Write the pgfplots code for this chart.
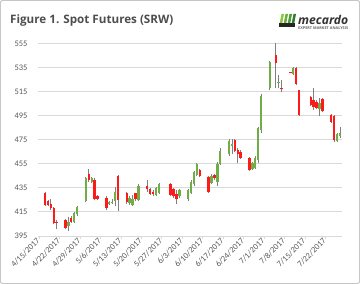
\documentclass[border=0pt]{standalone}
\usepackage{fontspec}
\setmainfont{Carlito}
\newfontfamily\titlefont{Open Sans}
\usepackage{pgfplots}
\pgfplotsset{compat=1.18}
\usepackage{pgfplotstable}
\definecolor{upc}{HTML}{70AD47}
\definecolor{dnc}{HTML}{FF1A1A}
\definecolor{wick}{HTML}{7F7F7F}
\definecolor{gridc}{HTML}{D9D9D9}
\definecolor{txt}{HTML}{595959}
\definecolor{ttl}{HTML}{4D4D4D}

\pgfplotstableread{
d o h l c
10 403 411 399 407
12 407 415 406 414.5
13 413 420 412 419
16 424 444 423 443
18 440 444 439 443
24 421.5 424 421 423
25 423 426 422 423.6
26 424 436 420 432
31 422.5 428 421 427
32 421 429 420 426
34 425 438 424 437
40 429 436 428 435
41 431 439 430 438.5
48 428 434 427 433
51 426 434 424 433
52 431 442 430 440
53 438 449 437 448
54 446 456 445 455
59 439 447 438 445
61 440 457 437 455
62 455 468 454 466
65 463 476 462 474
66 470 476 463 472
73 451 457 450 456
74 452 462 451 460
75 458 486 456 485
76 483 513 481 512
79 518 541 517 540
82 522.5 529 518 523
87 530 536 529 535
96 501 510 495 506
102 474 481 473 480
103 478 486 477 481
}\upt

\pgfplotstableread{
d o h l c
2 431 432 420 421
3 424 425 420 421
4 422 426 417 418
5 418 419 405 406
6 407 408 401 406.5
9 408 409 401 402
11 410 412 406 407
17 447 451 440 442
19 442 443 425 426
20 428 429 425 426
23 427 428 417 418
27 445 446 416 425
30 431 432 422 423
33 430.5 431 424 425.5
37 437 442 432 434
38 434 435 429 430
39 432 433 428 430
45 438 439 428 429
46 434 435 427 428
47 430 433 422 426
55 450 451 444 445
58 444 445 431 432
60 446 447 442 443
67 475 476 465 466
68 467 468 456 463
69 465 467 459 460
72 460 461 449 450
81 546 556 518 539
83 518 525 515 517.5
86 531.5 532 530.5 531
88 535 536 521 522
89 516.5 517 495 496
93 511 512 503 504
94 508 518 500 502.5
95 507 508 501 502
97 509 510 498 499
100 496 497 489 490
101 495 496 473 475
}\dnt

\begin{document}
\begin{tikzpicture}
\useasboundingbox (-38bp,-48bp) rectangle (322bp,236bp);
\draw[gray!45, line width=1bp, rounded corners=2bp] (-37.5bp,-47.5bp) rectangle (321.5bp,235.5bp);
\node[anchor=base west, text=ttl, inner sep=0pt] at (-28bp,212bp) {\titlefont\bfseries\fontsize{11.7}{14}\selectfont Figure 1. Spot Futures (SRW)};
% logo
\foreach \i/\col in {0/8DC63F,1/6AAE3E,2/4A9A3A,3/2F7A30}{
  \definecolor{lc}{HTML}{\col}
  \fill[lc] ({241bp+\i*4bp},209bp) -- ({243.5bp+\i*4bp},209bp) -- ({246bp+\i*4bp},222bp) -- ({243.5bp+\i*4bp},222bp) -- cycle;
}
\fill[black!85] (241bp,209bp) -- (257bp,209bp) -- (257bp,213bp) -- (241bp,213bp) -- cycle;
\node[anchor=base west, inner sep=0pt, text=black!80] at (260bp,211bp) {\resizebox{50bp}{!}{\titlefont\bfseries\itshape mecardo}};
\node[anchor=base west, inner sep=0pt, text=black!60] at (260bp,206bp) {\resizebox{50bp}{!}{\titlefont\bfseries EXPERT MARKET ANALYSIS}};

\begin{axis}[
  at={(0bp,0bp)}, anchor=south west,
  scale only axis, width=304bp, height=192bp,
  xmin=-0.4, xmax=103.7, ymin=395, ymax=555,
  clip=false,
  axis x line*=bottom, axis y line*=left,
  x axis line style={draw=gridc, line width=1bp},
  y axis line style={draw=none},
  ytick={395,415,...,555},
  ymajorgrids, grid style={draw=gridc, line width=1bp},
  ytick style={draw=none},
  xtick={0,7,...,98},
  xticklabels={4/15/2017,4/22/2017,4/29/2017,5/6/2017,5/13/2017,5/20/2017,5/27/2017,6/3/2017,6/10/2017,6/17/2017,6/24/2017,7/1/2017,7/8/2017,7/15/2017,7/22/2017},
  xtick style={draw=gridc, line width=0.8bp},
  major tick length=3bp, tick align=outside,
  xticklabel style={rotate=45, anchor=east, font=\fontsize{8.5}{10}\selectfont, text=txt, inner sep=1bp},
  yticklabel style={font=\fontsize{8.5}{10}\selectfont, text=txt, xshift=-4bp},
  /pgf/number format/assume math mode=true,
  /pgf/number format/1000 sep={},
]
% wicks
\addplot[draw=none, mark=none, forget plot, error bars/.cd, y dir=plus, y explicit, error mark=none, error bar style={line width=0.8bp, draw=wick, solid}] table[x=d, y=l, y error plus expr=\thisrow{h}-\thisrow{l}] {\upt};
\addplot[draw=none, mark=none, forget plot, error bars/.cd, y dir=plus, y explicit, error mark=none, error bar style={line width=0.8bp, draw=wick, solid}] table[x=d, y=l, y error plus expr=\thisrow{h}-\thisrow{l}] {\dnt};
% bodies
\addplot[draw=none, mark=none, forget plot, error bars/.cd, y dir=plus, y explicit, error mark=none, error bar style={line width=2.4bp, draw=upc, solid}] table[x=d, y=o, y error plus expr=\thisrow{c}-\thisrow{o}] {\upt};
\addplot[draw=none, mark=none, forget plot, error bars/.cd, y dir=plus, y explicit, error mark=none, error bar style={line width=2.4bp, draw=dnc, solid}] table[x=d, y=c, y error plus expr=\thisrow{o}-\thisrow{c}] {\dnt};
\end{axis}
\end{tikzpicture}
\end{document}
